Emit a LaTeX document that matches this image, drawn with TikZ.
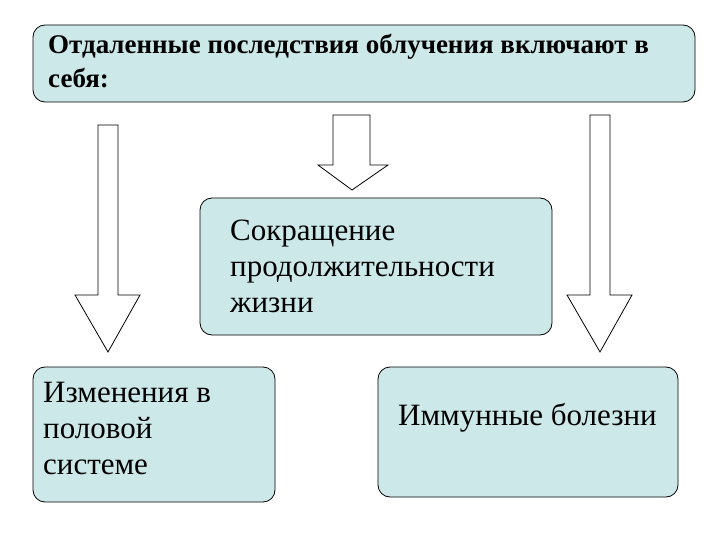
\documentclass[tikz,border=0pt]{standalone}
\usepackage{fontspec}
\setmainfont[Script=Cyrillic]{Liberation Serif}
\begin{document}
\begin{tikzpicture}[x=1pt,y=-1pt,
  box/.style={draw=black,line width=0.8pt,fill=boxfill,rounded corners=12pt},
  barrow/.style={draw=black,line width=0.8pt,fill=white,line join=miter}]
\definecolor{boxfill}{HTML}{CCE8E8}
\useasboundingbox (0,0) rectangle (720,540);
\draw[box] (33,25) rectangle (695,102);
\node[anchor=north west,align=left,font=\fontsize{27}{34}\selectfont\bfseries,inner sep=0] (t) at (48,34) {Отдаленные последствия облучения включают в\\себя:};
\draw[barrow] (98,125) -- (118,125) -- (118,295) -- (140,295) -- (108,352) -- (75,295) -- (98,295) -- cycle;
\draw[barrow] (333,115) -- (370,115) -- (370,165) -- (388,165) -- (352,190) -- (318,165) -- (333,165) -- cycle;
\draw[barrow] (590,115) -- (610,115) -- (610,295) -- (632,295) -- (600,352) -- (567,295) -- (590,295) -- cycle;
\draw[box] (200,198) rectangle (552,335);
\node[anchor=north west,align=left,font=\fontsize{31}{36}\selectfont,inner sep=0] (m) at (230,220) {Сокращение\\продолжительности\\жизни};
\draw[box] (33,367) rectangle (275,502);
\node[anchor=north west,align=left,font=\fontsize{31}{36}\selectfont,inner sep=0] (l) at (43,382) {Изменения в\\половой\\системе};
\draw[box] (378,367) rectangle (678,497);
\node[anchor=north west,align=left,font=\fontsize{31}{36}\selectfont,inner sep=0] (r) at (398,403) {Иммунные болезни};
\end{tikzpicture}
\end{document}
